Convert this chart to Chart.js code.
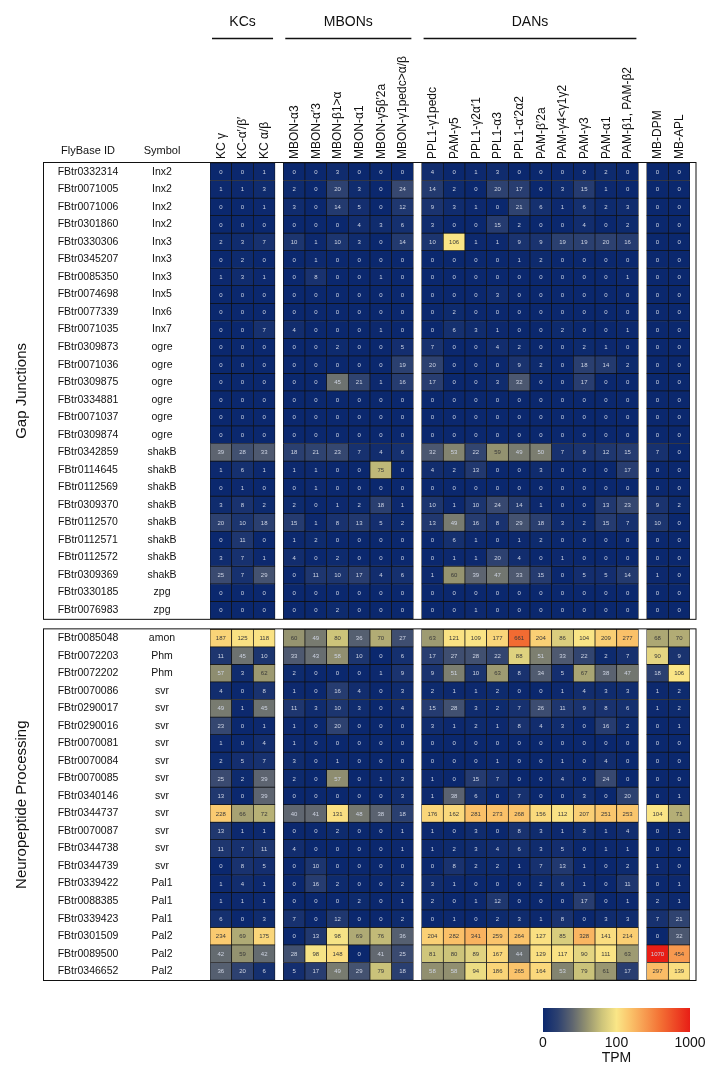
<!DOCTYPE html>
<html>
<head>
<meta charset="utf-8">
<script src="https://cdn.jsdelivr.net/npm/chart.js"></script>
<style>
  html, body { margin: 0; padding: 0; background: #fff; }
  #wrap { width: 710px; height: 1083px; position: relative; }
</style>
</head>
<body>
<div id="wrap"><canvas id="heat" width="710" height="1083"></canvas></div>
<script>
// column labels and their groups
const columns = [
  "KC γ", "KC-α′/β′", "KC α/β",
  "MBON-α3", "MBON-α′3", "MBON-β1>α", "MBON-α1", "MBON-γ5β′2a", "MBON-γ1pedc>α/β",
  "PPL1-γ1pedc", "PAM-γ5", "PPL1-γ2α′1", "PPL1-α3", "PPL1-α′2α2", "PAM-β′2a",
  "PAM-γ4<γ1γ2", "PAM-γ3", "PAM-α1", "PAM-β1, PAM-β2",
  "MB-DPM", "MB-APL"
];
const columnGroup = [0,0,0, 1,1,1,1,1,1, 2,2,2,2,2,2,2,2,2,2, 3,3];
const groupNames = ["KCs", "MBONs", "DANs", ""];

// Gap junctions
const gapIds = ["FBtr0332314","FBtr0071005","FBtr0071006","FBtr0301860","FBtr0330306","FBtr0345207",
  "FBtr0085350","FBtr0074698","FBtr0077339","FBtr0071035","FBtr0309873","FBtr0071036","FBtr0309875",
  "FBtr0334881","FBtr0071037","FBtr0309874","FBtr0342859","FBtr0114645","FBtr0112569","FBtr0309370",
  "FBtr0112570","FBtr0112571","FBtr0112572","FBtr0309369","FBtr0330185","FBtr0076983"];
const gapSymbols = ["Inx2","Inx2","Inx2","Inx2","Inx3","Inx3","Inx3","Inx5","Inx6","Inx7","ogre","ogre","ogre",
  "ogre","ogre","ogre","shakB","shakB","shakB","shakB","shakB","shakB","shakB","shakB","zpg","zpg"];
const gapValues = [
  [0,0,1, 0,0,3,0,0,0, 4,0,1,3,0,0,0,0,2,0, 0,0],
  [1,1,3, 2,0,20,3,0,24, 14,2,0,20,17,0,3,15,1,0, 0,0],
  [0,0,1, 3,0,14,5,0,12, 9,3,1,0,21,6,1,6,2,3, 0,0],
  [0,0,0, 0,0,0,4,3,6, 3,0,0,15,2,0,0,4,0,2, 0,0],
  [2,3,7, 10,1,10,3,0,14, 10,106,1,1,9,9,19,19,20,16, 0,0],
  [0,2,0, 0,1,0,0,0,0, 0,0,0,0,1,2,0,0,0,0, 0,0],
  [1,3,1, 0,8,0,0,1,0, 0,0,0,0,0,0,0,0,0,1, 0,0],
  [0,0,0, 0,0,0,0,0,0, 0,0,0,3,0,0,0,0,0,0, 0,0],
  [0,0,0, 0,0,0,0,0,0, 0,2,0,0,0,0,0,0,0,0, 0,0],
  [0,0,7, 4,0,0,0,1,0, 0,6,3,1,0,0,2,0,0,1, 0,0],
  [0,0,0, 0,0,2,0,0,5, 7,0,0,4,2,0,0,2,1,0, 0,0],
  [0,0,0, 0,0,0,0,0,19, 20,0,0,0,9,2,0,18,14,2, 0,0],
  [0,0,0, 0,0,45,21,1,16, 17,0,0,3,32,0,0,17,0,0, 0,0],
  [0,0,0, 0,0,0,0,0,0, 0,0,0,0,0,0,0,0,0,0, 0,0],
  [0,0,0, 0,0,0,0,0,0, 0,0,0,0,0,0,0,0,0,0, 0,0],
  [0,0,0, 0,0,0,0,0,0, 0,0,0,0,0,0,0,0,0,0, 0,0],
  [39,28,33, 18,21,23,7,4,6, 32,53,22,59,49,50,7,9,12,15, 7,0],
  [1,6,1, 1,1,0,0,75,0, 4,2,13,0,0,3,0,0,0,17, 0,0],
  [0,1,0, 0,1,0,0,0,0, 0,0,0,0,0,0,0,0,0,0, 0,0],
  [3,8,2, 2,0,1,2,18,1, 10,1,10,24,14,1,0,0,13,23, 9,2],
  [20,10,18, 15,1,8,13,5,2, 13,49,16,8,29,18,3,2,15,7, 10,0],
  [0,11,0, 1,2,0,0,0,0, 0,6,1,0,1,2,0,0,0,0, 0,0],
  [3,7,1, 4,0,2,0,0,0, 0,1,1,20,4,0,1,0,0,0, 0,0],
  [25,7,29, 0,11,10,17,4,6, 1,60,39,47,33,15,0,5,5,14, 1,0],
  [0,0,0, 0,0,0,0,0,0, 0,0,0,0,0,0,0,0,0,0, 0,0],
  [0,0,0, 0,0,2,0,0,0, 0,0,1,0,0,0,0,0,0,0, 0,0]
];

// Neuropeptide processing
const npIds = ["FBtr0085048","FBtr0072203","FBtr0072202","FBtr0070086","FBtr0290017","FBtr0290016",
  "FBtr0070081","FBtr0070084","FBtr0070085","FBtr0340146","FBtr0344737","FBtr0070087","FBtr0344738",
  "FBtr0344739","FBtr0339422","FBtr0088385","FBtr0339423","FBtr0301509","FBtr0089500","FBtr0346652"];
const npSymbols = ["amon","Phm","Phm","svr","svr","svr","svr","svr","svr","svr","svr","svr","svr","svr",
  "Pal1","Pal1","Pal1","Pal2","Pal2","Pal2"];
const npValues = [
  [187,125,118, 60,49,80,36,70,27, 63,121,109,177,661,204,86,104,209,277, 68,70],
  [11,45,10, 33,43,58,10,0,6, 17,27,28,22,88,51,33,22,2,7, 90,9],
  [57,3,62, 2,0,0,0,1,9, 9,51,10,63,8,34,5,67,38,47, 18,106],
  [4,0,8, 1,0,16,4,0,3, 2,1,1,2,0,0,1,4,3,3, 1,2],
  [49,1,45, 11,3,10,3,0,4, 15,28,3,2,7,26,11,9,8,6, 1,2],
  [23,0,1, 1,0,20,0,0,0, 3,1,2,1,8,4,3,0,16,2, 0,1],
  [1,0,4, 1,0,0,0,0,0, 0,0,0,0,0,0,0,0,0,0, 0,0],
  [2,5,7, 3,0,1,0,0,0, 0,0,0,1,0,0,1,0,4,0, 0,0],
  [25,2,39, 2,0,57,0,1,3, 1,0,15,7,0,0,4,0,24,0, 0,0],
  [13,0,39, 0,0,0,0,0,3, 1,38,6,0,7,0,0,3,0,20, 0,1],
  [228,66,72, 40,41,131,48,38,18, 176,162,281,273,268,156,112,207,251,253, 104,71],
  [13,1,1, 0,0,2,0,0,1, 1,0,3,0,8,3,1,3,1,4, 0,1],
  [11,7,11, 4,0,0,0,0,1, 1,2,3,4,6,3,5,0,1,1, 0,0],
  [0,8,5, 0,10,0,0,0,0, 0,8,2,2,1,7,13,1,0,2, 1,0],
  [1,4,1, 0,16,2,0,0,2, 3,1,0,0,0,2,6,1,0,11, 0,1],
  [1,1,1, 0,0,0,2,0,1, 2,0,1,12,0,0,0,17,0,1, 2,1],
  [6,0,3, 7,0,12,0,0,2, 0,1,0,2,3,1,8,0,3,3, 7,21],
  [234,69,175, 0,13,98,69,76,36, 204,282,341,259,264,127,85,328,141,214, 0,32],
  [42,59,42, 28,98,148,0,41,25, 81,80,89,167,44,129,117,90,111,63, 1070,454],
  [36,20,6, 5,17,49,29,79,18, 58,58,94,186,265,164,53,79,61,17, 297,139]
];

const colorTicks = [0, 100, 1000];

// colour scale: 0-100 on the first half, 100-1000 on the second half
const stops = [
  [0.000, [11, 40, 110]],
  [0.100, [45, 65, 112]],
  [0.200, [95, 102, 112]],
  [0.300, [150, 148, 112]],
  [0.400, [205, 196, 122]],
  [0.500, [250, 230, 135]],
  [0.600, [250, 192, 104]],
  [0.800, [243, 112, 52]],
  [1.000, [232, 30, 22]]
];
function scaleT(v) {
  return v <= 100 ? v / 200 : Math.min(1, 0.5 + (v - 100) / 1800);
}
function colorAtT(t) {
  for (let i = 1; i < stops.length; i++) {
    if (t <= stops[i][0]) {
      const a = stops[i - 1], b = stops[i];
      const f = (t - a[0]) / (b[0] - a[0]);
      return a[1].map((c, k) => Math.round(c + (b[1][k] - c) * f));
    }
  }
  return stops[stops.length - 1][1];
}
function colorFor(v) {
  const c = colorAtT(scaleT(v));
  return `rgb(${c[0]},${c[1]},${c[2]})`;
}
function textColorFor(v) {
  const c = colorAtT(scaleT(v));
  const lum = (0.299 * c[0] + 0.587 * c[1] + 0.114 * c[2]) / 255;
  return lum > 0.55 ? "#3a3a3a" : "#cdd3e2";
}

// x position of each column, with a small gap between groups
const groupGap = 0.38;
const colX = columns.map((c, j) => j + columnGroup[j] * groupGap);
// y position of each row, with a gap between the two sections
const sectionGap = 0.6;
const gapRowY = gapValues.map((r, i) => i);
const npRowY = npValues.map((r, i) => gapValues.length + sectionGap + i);
const yMax = gapValues.length + sectionGap + npValues.length;

const datasets = [];
gapValues.forEach((row, i) => {
  datasets.push({
    data: row.map((v, j) => ({ x: colX[j], y: [gapRowY[i], gapRowY[i] + 1], v: v })),
    backgroundColor: row.map(colorFor),
    textColor: row.map(textColorFor)
  });
});
npValues.forEach((row, i) => {
  datasets.push({
    data: row.map((v, j) => ({ x: colX[j], y: [npRowY[i], npRowY[i] + 1], v: v })),
    backgroundColor: row.map(colorFor),
    textColor: row.map(textColorFor)
  });
});

const FONT = "'Liberation Sans', Arial, sans-serif";

const decorations = {
  id: "decorations",
  afterDatasetsDraw(chart) {
    const ctx = chart.ctx;
    const xs = chart.scales.x, ys = chart.scales.y;
    const area = chart.chartArea;
    const cellW = xs.getPixelForValue(1) - xs.getPixelForValue(0);

    // values in cells
    ctx.save();
    ctx.font = "6px " + FONT;
    ctx.textAlign = "center";
    ctx.textBaseline = "middle";
    chart.data.datasets.forEach((ds, di) => {
      const meta = chart.getDatasetMeta(di);
      meta.data.forEach((el, j) => {
        ctx.fillStyle = ds.textColor[j];
        ctx.fillText(String(ds.data[j].v), el.x, (el.y + el.base) / 2 + 0.5);
      });
    });
    ctx.restore();

    // row labels
    ctx.save();
    ctx.fillStyle = "#111";
    ctx.font = "10.5px " + FONT;
    ctx.textAlign = "center";
    ctx.textBaseline = "middle";
    gapIds.forEach((id, i) => {
      const y = ys.getPixelForValue(gapRowY[i] + 0.5);
      ctx.fillText(id, 88, y);
      ctx.fillText(gapSymbols[i], 162, y);
    });
    npIds.forEach((id, i) => {
      const y = ys.getPixelForValue(npRowY[i] + 0.5);
      ctx.fillText(id, 88, y);
      ctx.fillText(npSymbols[i], 162, y);
    });
    ctx.font = "11px " + FONT;
    ctx.fillText("FlyBase ID", 88, area.top - 12);
    ctx.fillText("Symbol", 162, area.top - 12);
    ctx.restore();

    // column labels (rotated)
    ctx.save();
    ctx.fillStyle = "#111";
    ctx.font = "12px " + FONT;
    ctx.textAlign = "left";
    ctx.textBaseline = "middle";
    columns.forEach((c, j) => {
      ctx.save();
      ctx.translate(xs.getPixelForValue(colX[j]) + 0.5, area.top - 4);
      ctx.rotate(-Math.PI / 2);
      ctx.fillText(c, 0, 0);
      ctx.restore();
    });
    ctx.restore();

    // group headers with rule lines
    ctx.save();
    ctx.fillStyle = "#111";
    ctx.strokeStyle = "#111";
    ctx.lineWidth = 1.5;
    ctx.font = "14px " + FONT;
    ctx.textAlign = "center";
    ctx.textBaseline = "middle";
    groupNames.forEach((g, gi) => {
      if (!g) return;
      const idx = columnGroup.map((cg, j) => cg === gi ? j : -1).filter(j => j >= 0);
      const x0 = xs.getPixelForValue(colX[idx[0]]) - cellW / 2 + 2;
      const x1 = xs.getPixelForValue(colX[idx[idx.length - 1]]) + cellW / 2 - 2;
      ctx.fillText(g, (x0 + x1) / 2, 22);
      ctx.beginPath();
      ctx.moveTo(x0, 38.5);
      ctx.lineTo(x1, 38.5);
      ctx.stroke();
    });
    ctx.restore();

    // section frames and side labels
    const sections = [
      { name: "Gap Junctions", y0: ys.getPixelForValue(0), y1: ys.getPixelForValue(gapValues.length) },
      { name: "Neuropeptide Processing", y0: ys.getPixelForValue(npRowY[0]), y1: ys.getPixelForValue(yMax) }
    ];
    ctx.save();
    ctx.strokeStyle = "#111";
    ctx.lineWidth = 1;
    ctx.fillStyle = "#111";
    ctx.font = "15px " + FONT;
    ctx.textAlign = "center";
    ctx.textBaseline = "middle";
    sections.forEach(s => {
      ctx.strokeRect(43.5, s.y0 - 0.5, area.right + 6 - 43.5, s.y1 - s.y0 + 1);
      ctx.save();
      ctx.translate(22, (s.y0 + s.y1) / 2);
      ctx.rotate(-Math.PI / 2);
      ctx.fillText(s.name, 0, 0);
      ctx.restore();
    });
    ctx.restore();

    // colour bar
    const cbX0 = 543, cbX1 = 690, cbY0 = 1008, cbY1 = 1032;
    ctx.save();
    const grad = ctx.createLinearGradient(cbX0, 0, cbX1, 0);
    stops.forEach(s => grad.addColorStop(s[0], `rgb(${s[1][0]},${s[1][1]},${s[1][2]})`));
    ctx.fillStyle = grad;
    ctx.fillRect(cbX0, cbY0, cbX1 - cbX0, cbY1 - cbY0);
    ctx.fillStyle = "#111";
    ctx.font = "14px " + FONT;
    ctx.textAlign = "center";
    ctx.textBaseline = "top";
    colorTicks.forEach(t => {
      const x = cbX0 + scaleT(t) * (cbX1 - cbX0);
      ctx.fillText(String(t), x, cbY1 + 4);
    });
    ctx.fillText("TPM", cbX0 + 0.5 * (cbX1 - cbX0), cbY1 + 19);
    ctx.restore();
  }
};

new Chart(document.getElementById("heat"), {
  type: "bar",
  data: { datasets: datasets },
  options: {
    responsive: false,
    animation: false,
    events: [],
    parsing: { xAxisKey: "x", yAxisKey: "y" },
    layout: { padding: { left: 210, right: 20, top: 163, bottom: 103 } },
    datasets: {
      bar: {
        grouped: false,
        barPercentage: 1,
        categoryPercentage: 1,
        borderWidth: 0.7,
        borderColor: "#111",
        borderSkipped: false
      }
    },
    plugins: { legend: { display: false }, tooltip: { enabled: false } },
    scales: {
      x: {
        type: "linear",
        display: false,
        offset: false,
        min: colX[0] - 0.5,
        max: colX[colX.length - 1] + 0.5
      },
      y: {
        type: "linear",
        display: false,
        reverse: true,
        min: 0,
        max: yMax
      }
    }
  },
  plugins: [decorations]
});
</script>
</body>
</html>
